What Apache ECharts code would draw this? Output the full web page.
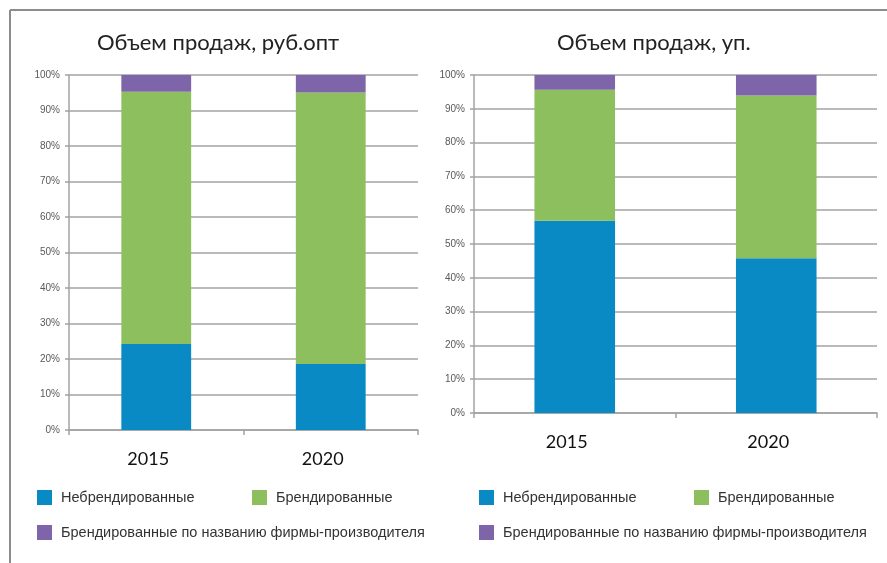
<!DOCTYPE html>
<html>
<head>
<meta charset="utf-8">
<script src="https://cdn.jsdelivr.net/npm/echarts@6/dist/echarts.min.js"></script>
<style>
  html, body { margin: 0; padding: 0; background: #fff; }
  #chart { width: 887px; height: 563px; }
</style>
</head>
<body>
<div id="chart"></div>
<script>
const categories = ['2015', '2020']
const seriesNames = ['Небрендированные', 'Брендированные', 'Брендированные по названию фирмы-производителя']

// Объем продаж, руб.опт (доли, %)
const rubUnbranded = [24.2, 18.6]
const rubBranded = [71.1, 76.5]
const rubMaker = [4.7, 4.9]

// Объем продаж, уп. (доли, %)
const unitUnbranded = [56.9, 45.8]
const unitBranded = [38.7, 48.1]
const unitMaker = [4.4, 6.1]

const colors = ['#0a8ac5', '#8dbf5e', '#7e64a8']
const gridColor = '#a3a3a3'

const myChart = echarts.init(document.getElementById('chart'))

function yAxis(gridIndex) {
  return {
    gridIndex,
    type: 'value',
    min: 0,
    max: 100,
    interval: 10,
    axisLine: { show: true, lineStyle: { color: gridColor, width: 1.5 } },
    axisTick: { show: true, length: 4, lineStyle: { color: gridColor, width: 1.5 } },
    splitLine: { lineStyle: { color: gridColor, width: 1.5 } },
    axisLabel: {
      formatter: '{value}%',
      fontFamily: 'Liberation Sans',
      fontSize: 10,
      color: '#595959',
      margin: 9
    }
  }
}

function xAxis(gridIndex) {
  return {
    gridIndex,
    type: 'category',
    data: categories,
    axisLine: { lineStyle: { color: gridColor, width: 1.5 } },
    axisTick: { show: true, length: 5, lineStyle: { color: gridColor, width: 1.5 } },
    axisLabel: {
      fontFamily: 'Lato',
      fontSize: 18,
      color: '#111',
      margin: 20,
      padding: [0, 16, 0, 0]
    }
  }
}

function bar(name, data, idx, color) {
  return {
    name,
    type: 'bar',
    stack: 'total' + idx,
    xAxisIndex: idx,
    yAxisIndex: idx,
    barWidth: '40%',
    data,
    itemStyle: { color }
  }
}

function legendItem(name, left, top) {
  return {
    data: [name],
    left,
    top,
    padding: 0,
    icon: 'rect',
    itemWidth: 15,
    itemHeight: 15,
    selectedMode: false,
    textStyle: {
      fontFamily: 'Liberation Sans',
      fontSize: 14.5,
      color: '#333',
      padding: [0, 0, 0, 4]
    }
  }
}

const option = {
  animation: false,
  color: colors,
  title: [
    {
      text: 'Объем продаж, руб.опт',
      left: 97,
      top: 32,
      padding: 0,
      textStyle: { fontFamily: 'Lato', fontSize: 22, fontWeight: 'normal', color: '#222' }
    },
    {
      text: 'Объем продаж, уп.',
      left: 557,
      top: 32,
      padding: 0,
      textStyle: { fontFamily: 'Lato', fontSize: 22, fontWeight: 'normal', color: '#222' }
    }
  ],
  legend: [
    legendItem(seriesNames[0], 37, 490),
    legendItem(seriesNames[1], 252, 490),
    legendItem(seriesNames[2], 37, 525),
    legendItem(seriesNames[0], 479, 490),
    legendItem(seriesNames[1], 694, 490),
    legendItem(seriesNames[2], 479, 525)
  ],
  grid: [
    { left: 69, right: 469, top: 75, bottom: 133 },
    { left: 474, right: 10, top: 75, bottom: 150 }
  ],
  xAxis: [xAxis(0), xAxis(1)],
  yAxis: [yAxis(0), yAxis(1)],
  graphic: [
    { type: 'line', shape: { x1: 10, y1: 10, x2: 887, y2: 10 }, style: { stroke: '#8c8c8c', lineWidth: 2 } },
    { type: 'line', shape: { x1: 10, y1: 10, x2: 10, y2: 563 }, style: { stroke: '#8c8c8c', lineWidth: 2 } }
  ],
  series: [
    bar(seriesNames[0], rubUnbranded, 0, colors[0]),
    bar(seriesNames[1], rubBranded, 0, colors[1]),
    bar(seriesNames[2], rubMaker, 0, colors[2]),
    bar(seriesNames[0], unitUnbranded, 1, colors[0]),
    bar(seriesNames[1], unitBranded, 1, colors[1]),
    bar(seriesNames[2], unitMaker, 1, colors[2])
  ]
}
myChart.setOption(option)
</script>
</body>
</html>
